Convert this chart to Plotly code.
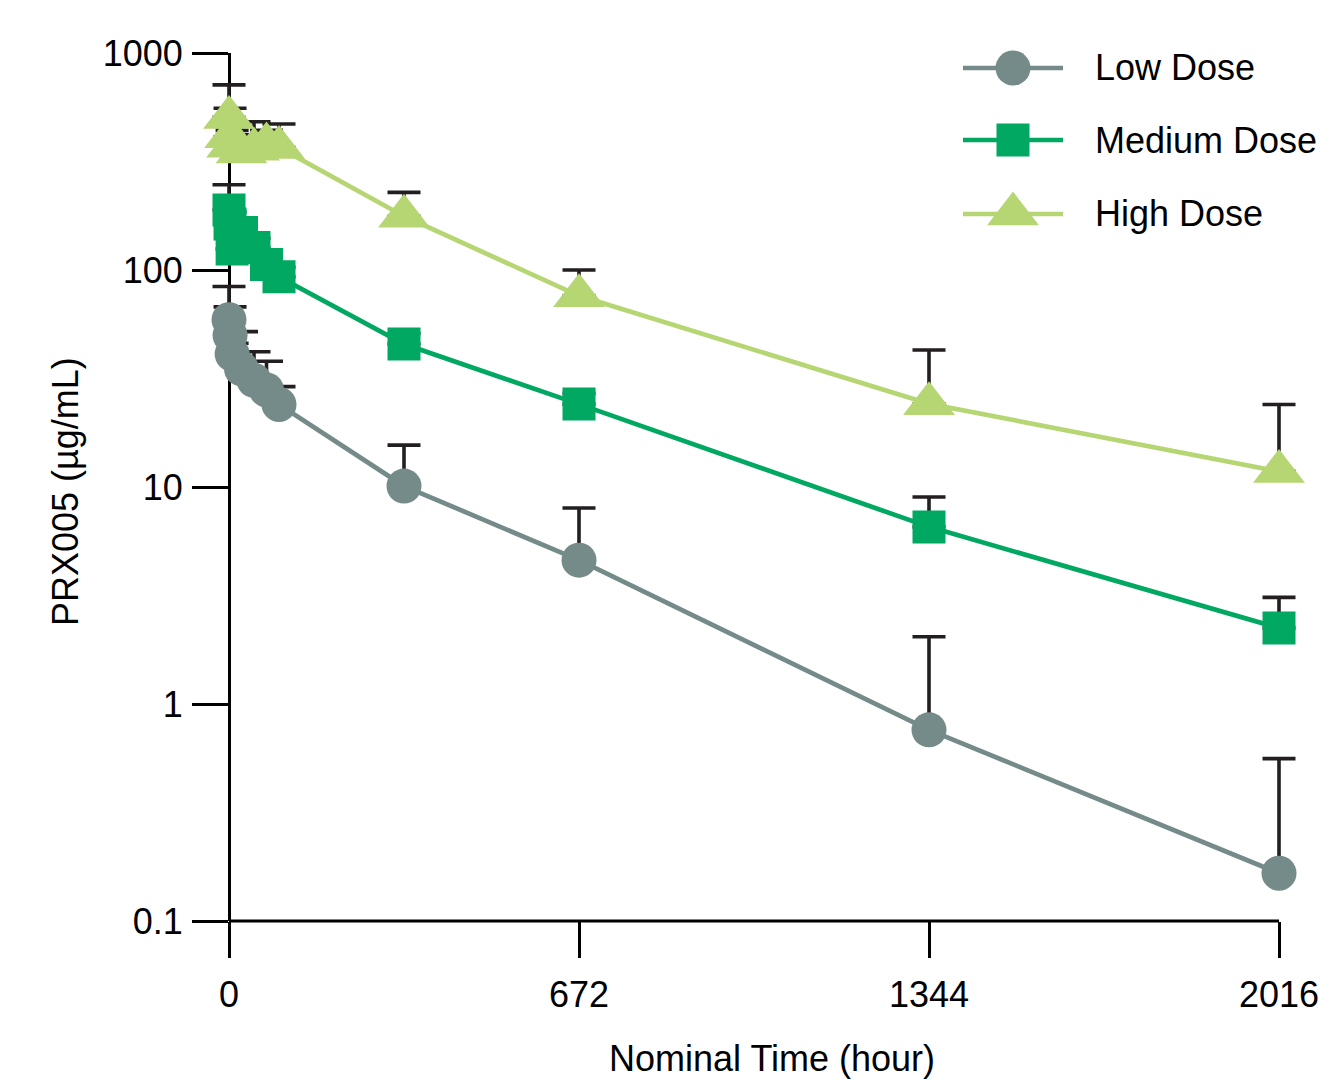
import plotly.graph_objects as go

# ---------------- data ----------------
times_h = [0, 2, 6, 24, 48, 72, 96, 336, 672, 1344, 2016]

low_mean = [59, 50, 41, 35, 31, 28, 24, 10.1, 4.6, 0.76, 0.166]
low_upper = [84, 67.6, 46, 52, 42, 38, 29, 15.6, 8.0, 2.04, 0.56]

medium_mean = [189, 163, 125, 149, 127, 106, 93, 45.6, 24.1, 6.55, 2.24]
medium_upper = [247, 185, 140, 165, 140, 118, 103, 51, 27, 9.0, 3.1]

high_mean = [505, 411, 372, 350, 360, 381, 367, 177, 76, 24.2, 11.8]
high_upper = [713, 556, 440, 420, 482, 440, 471, 228, 100, 42.8, 24.0]

series_names = ["Low Dose", "Medium Dose", "High Dose"]
x_tick_vals = [0, 672, 1344, 2016]
y_tick_vals = [0.1, 1, 10, 100, 1000]
y_tick_text = ["0.1", "1", "10", "100", "1000"]

# ---------------- style ----------------
colors = ["#758B8A", "#00A862", "#B5D673"]
symbols = ["circle", "square", "triangle-up"]
sizes = [35, 33, 45]
LINE_W = 4.7
ERR_COLOR = "#231F20"
FONT = "Arial, Liberation Sans, sans-serif"
FS = 36

# page body has an 8px margin: figure is offset by (8, 8)
OFF = 8
W, H = 1332 - OFF, 1080 - OFF
X0PX, X1PX, PT, PB = 229, 1279, 53, 921   # data x=0 / x=2016 and y-extent, window px
PAD = 40                                  # extra px on each side so caps aren't clipped
PL, PR = X0PX - PAD, X1PX + PAD
L, T = PL - OFF, PT - OFF
R, B = W - (PR - OFF), H - (PB - OFF)

XMIN, XMAX = x_tick_vals[0], x_tick_vals[-1]
u_per_px = (XMAX - XMIN) / (X1PX - X0PX)
x_range = [XMIN - PAD * u_per_px, XMAX + PAD * u_per_px]
yaxis_pos = PAD / (PR - PL)


def paper_x(px):
    return (px - PL) / (PR - PL)


def paper_y(py):
    return (PB - py) / (PB - PT)


fig = go.Figure()

means = [low_mean, medium_mean, high_mean]
uppers = [low_upper, medium_upper, high_upper]

for name, m, u, c, s, sz in zip(series_names, means, uppers, colors, symbols, sizes):
    fig.add_trace(go.Scatter(
        x=times_h, y=m, name=name, mode="lines+markers",
        line=dict(color=c, width=LINE_W),
        marker=dict(symbol=s, size=sz, color=c, opacity=1, line=dict(width=0)),
        error_y=dict(type="data", symmetric=False,
                     array=[uu - mm for uu, mm in zip(u, m)],
                     arrayminus=[0] * len(m),
                     color=ERR_COLOR, thickness=3.6, width=16.5),
        cliponaxis=False, showlegend=False,
    ))

# ---------------- custom legend (pixel-space overlay axes) ----------------
LEG_X0, LEG_X1, LEG_TX = 963, 1063, 1093
LEG_ROWS = [68, 140, 214]
for name, c, s, sz, ry in zip(series_names, colors, symbols, sizes, LEG_ROWS):
    fig.add_trace(go.Scatter(
        x=[LEG_X0, LEG_X1], y=[ry, ry],
        xaxis="x2", yaxis="y2", mode="lines",
        line=dict(color=c, width=LINE_W),
        cliponaxis=False, showlegend=False, hoverinfo="skip",
    ))
    fig.add_trace(go.Scatter(
        x=[(LEG_X0 + LEG_X1) / 2], y=[ry],
        xaxis="x2", yaxis="y2", mode="markers",
        marker=dict(symbol=s, size=sz, color=c, opacity=1, line=dict(width=0)),
        cliponaxis=False, showlegend=False, hoverinfo="skip",
    ))
    fig.add_annotation(x=paper_x(LEG_TX), y=paper_y(ry), xref="paper", yref="paper",
                       text=name, showarrow=False, xanchor="left", yanchor="middle",
                       font=dict(family=FONT, size=FS, color="black"))

tick_common = dict(ticks="outside", ticklen=36, tickwidth=3, tickcolor="black",
                   showgrid=False, zeroline=False, layer="below traces",
                   tickfont=dict(family=FONT, size=FS, color="black"))

fig.update_layout(
    width=W, height=H,
    margin=dict(l=L, r=R, t=T, b=B),
    paper_bgcolor="white", plot_bgcolor="white",
    font=dict(family=FONT, size=FS, color="black"),
    xaxis=dict(range=x_range, tickvals=x_tick_vals,
               ticktext=[str(v) for v in x_tick_vals], showline=False,
               ticklabelstandoff=6, **tick_common),
    yaxis=dict(type="log", range=[-1, 3], tickvals=y_tick_vals,
               ticktext=y_tick_text, anchor="free", position=yaxis_pos,
               showline=True, linecolor="black", linewidth=3,
               ticklabelstandoff=2, **tick_common),
    xaxis2=dict(overlaying="x", range=[PL, PR], visible=False, anchor="y2"),
    yaxis2=dict(overlaying="y", range=[PB, PT], visible=False, anchor="x2"),
    showlegend=False,
)

# x axis baseline spanning only the data range (0 .. 2016)
fig.add_shape(type="line", xref="x", yref="paper", x0=XMIN, x1=XMAX, y0=0, y1=0,
              line=dict(color="black", width=3), layer="below")

fig.add_annotation(text="Nominal Time (hour)", xref="paper", yref="paper",
                   x=paper_x(772), y=paper_y(1058), showarrow=False,
                   xanchor="center", yanchor="middle",
                   font=dict(family=FONT, size=FS, color="black"))
fig.add_annotation(text="PRX005 (µg/mL)", xref="paper", yref="paper",
                   x=paper_x(65), y=paper_y(492), textangle=-90, showarrow=False,
                   xanchor="center", yanchor="middle",
                   font=dict(family=FONT, size=FS, color="black"))

fig.write_html("out.html")
